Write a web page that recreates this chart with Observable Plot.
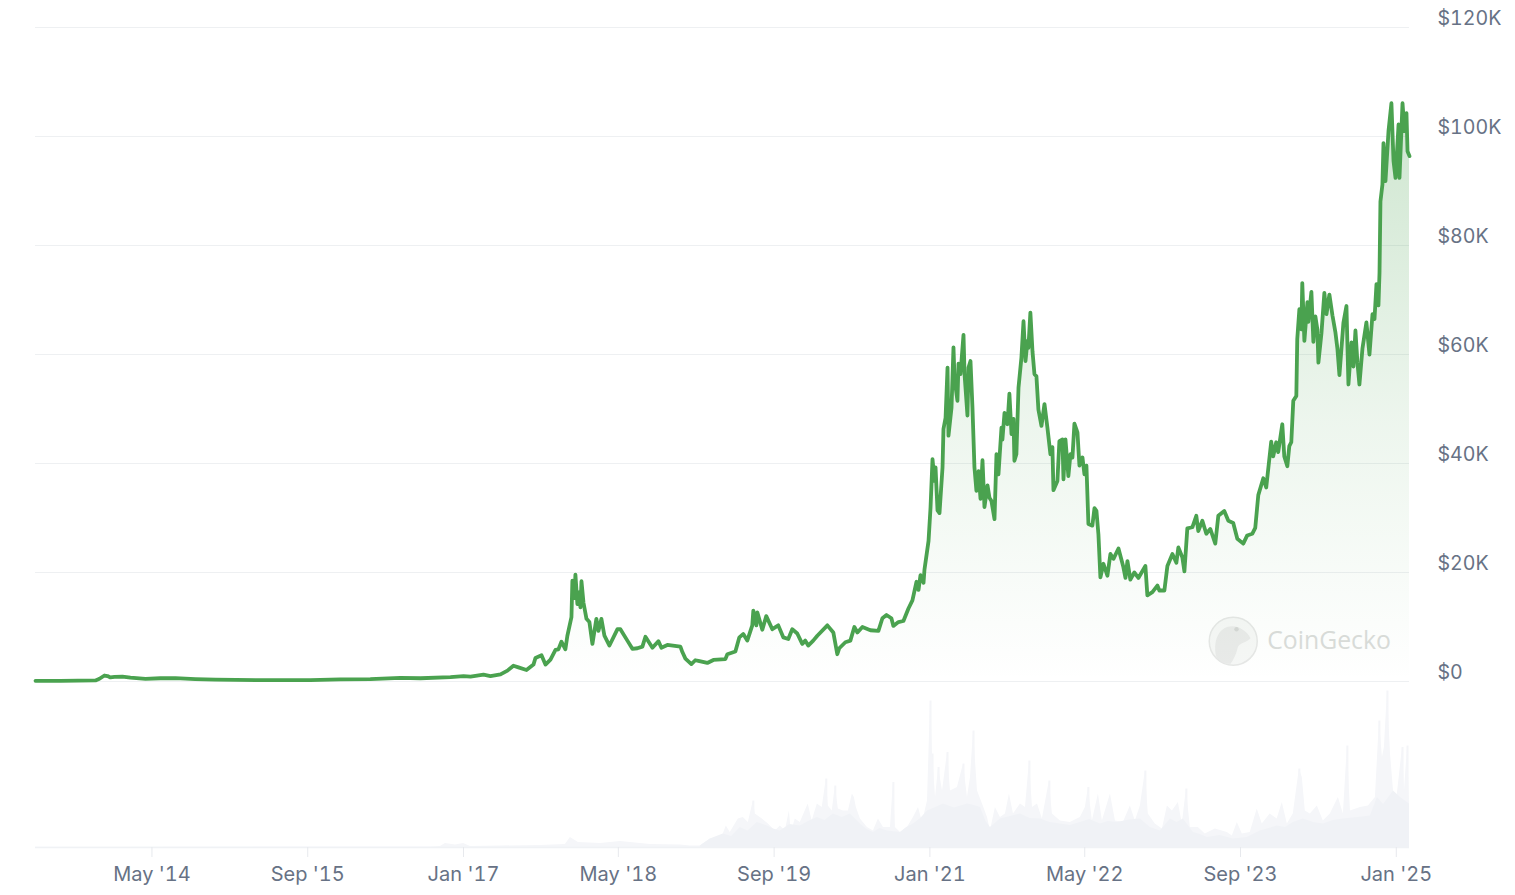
<!DOCTYPE html>
<html lang="en">
<head>
<meta charset="utf-8">
<title>Bitcoin price chart</title>
<style>
  html, body { margin: 0; padding: 0; background: #fff; overflow: hidden; }
  #chart { width: 1515px; height: 895px; }
  #chart svg { display: block; background: transparent; }
</style>
<script src="https://cdn.jsdelivr.net/npm/d3@7"></script>
<script src="https://cdn.jsdelivr.net/npm/@observablehq/plot@0.6"></script>
</head>
<body>
<div id="chart"></div>
<script>
// Price series: decimal year, USD thousands
const priceYears = [
2013.338,2013.553,2013.853,2013.887,2013.930,2013.956,2013.981,2014.016,2014.084,2014.153,2014.282,2014.410,2014.539,2014.710,2014.882,2015.268,2015.697,2015.954,2016.211,2016.468,2016.640,
2016.897,2017.009,2017.069,2017.180,2017.240,2017.326,2017.386,2017.437,2017.480,2017.549,2017.609,2017.626,2017.678,2017.712,2017.755,2017.798,2017.823,2017.849,2017.883,2017.900,2017.935,2017.943,2017.960,2017.969,2017.986,2018.003,2018.012,2018.021,2018.038,2018.064,2018.089,2018.115,2018.149,2018.167,2018.192,2018.218,2018.261,2018.330,2018.355,2018.415,2018.458,2018.501,2018.544,2018.570,2018.630,2018.681,2018.707,2018.758,2018.870,2018.887,2018.913,2018.964,2018.998,2019.024,2019.101,2019.153,2019.256,2019.273,2019.342,2019.376,2019.410,2019.444,2019.487,2019.496,2019.522,2019.530,2019.573,2019.607,2019.659,2019.710,2019.753,2019.796,2019.830,2019.873,2019.916,2019.942,2019.967,2020.010,2020.045,2020.131,2020.182,2020.216,2020.233,2020.285,2020.328,2020.362,2020.388,2020.431,2020.499,2020.568,2020.602,2020.637,2020.679,2020.696,2020.739,2020.782,2020.825,2020.859,2020.894,2020.911,2020.928,2020.954,2020.962,
2020.997,2021.014,2021.031,2021.048,2021.057,2021.074,2021.091,2021.117,2021.125,2021.143,2021.160,2021.168,2021.194,2021.211,2021.220,2021.245,2021.254,2021.271,2021.297,2021.306,2021.331,2021.340,2021.357,2021.374,2021.391,2021.408,2021.426,2021.443,2021.460,2021.477,2021.503,2021.520,2021.537,2021.563,2021.580,2021.597,2021.623,2021.631,2021.649,2021.674,2021.691,2021.709,2021.726,2021.734,2021.751,2021.769,2021.794,2021.812,2021.829,2021.846,2021.854,2021.871,2021.889,2021.906,2021.923,2021.940,2021.966,2021.992,2022.017,2022.043,2022.060,2022.069,2022.103,2022.120,2022.146,2022.155,2022.172,2022.197,2022.215,2022.232,2022.249,2022.275,2022.292,2022.318,2022.335,2022.352,2022.369,2022.403,2022.421,2022.438,2022.455,
2022.472,2022.498,2022.532,2022.558,2022.584,2022.627,2022.669,2022.687,2022.704,2022.729,2022.763,2022.798,2022.858,2022.875,2022.918,2022.961,2022.978,2023.021,2023.047,2023.090,2023.124,2023.141,2023.175,2023.193,2023.218,2023.261,2023.295,2023.312,2023.347,2023.381,2023.415,2023.458,2023.484,2023.535,2023.570,2023.612,2023.647,2023.698,2023.732,2023.775,2023.801,
2023.827,2023.870,2023.895,2023.938,2023.955,2023.981,2023.998,2024.033,2024.050,2024.076,2024.093,2024.110,2024.127,2024.153,2024.161,2024.179,2024.196,2024.204,2024.222,2024.248,2024.256,2024.282,2024.299,2024.316,2024.333,2024.342,2024.368,2024.393,2024.411,2024.436,2024.462,2024.488,2024.505,2024.522,2024.556,2024.582,2024.599,2024.625,2024.642,2024.659,2024.676,2024.693,2024.719,2024.753,2024.779,2024.805,2024.822,2024.839,2024.856,2024.865,2024.873,2024.890,2024.899,2024.916,2024.942,2024.967,2024.985,2025.002,2025.028,2025.036,2025.062,2025.079,2025.096,2025.105,2025.122
];
const priceValues = [
.12,.11,.2,.5,1.1,1.0,.75,.85,.9,.7,.5,.6,.62,.45,.35,.24,.25,.4,.42,.65,.6,
.8,1.0,.9,1.25,1.0,1.3,2.0,2.9,2.6,2.1,3.1,4.3,4.8,3.1,4.0,5.8,5.9,7.3,5.9,8.4,11.8,18.5,15.3,19.6,14.2,16.4,13.6,18.4,14.5,11.5,10.9,6.9,11.5,9.3,11.5,8.4,6.6,9.6,9.6,7.5,6.0,6.1,6.4,8.2,6.2,7.4,6.2,6.7,6.4,5.4,4.2,3.2,3.9,3.8,3.4,3.95,4.1,5.0,5.5,8.1,8.7,7.5,10.3,13.0,10.3,12.7,9.5,12,9.6,10.3,8.1,7.8,9.6,8.8,6.9,7.5,6.6,7.5,8.4,10.3,9.0,5.0,6.1,7.2,7.5,10,9,10,9.4,9.3,11.6,12.2,11.6,10.2,10.9,11.1,13.4,14.9,18.3,16.8,19.5,18.1,20.5,
25.8,31.9,40.8,36.8,39.3,31.4,30.9,39.3,46.3,48.4,57.6,45.1,50.2,61.3,55.5,51.5,58.3,56.4,63.6,56.4,48.8,57.6,58.8,50.2,39.3,35,38.6,33.5,40.6,32,36,33.7,33.1,29.8,41.7,38,46.6,44.4,49.3,47.2,52.8,45.4,48.2,40.5,41.7,53.9,59.4,66.1,58.8,62.5,61.2,67.7,60.6,56.4,56,49.9,46.9,50.9,46.6,41.7,43,35.1,36.8,44.1,44.4,37.1,44.4,37.7,41.7,41.1,47.3,45.7,39.6,41.1,38,39.6,28.9,28.6,31.8,31.3,27,
19.1,21.6,19.4,23.4,22.5,24.4,21,19,22.1,18.7,20,19,21.2,15.8,16.4,17.6,16.7,16.7,21.2,23.4,21.8,24.6,22.8,20.2,28.1,28.3,30.4,27.6,29.5,27.1,28,25.3,30.4,31.3,29.5,29.1,26.2,25.3,26.8,27.1,28.2,
34.2,37.3,35.6,44,41.3,43.9,42.1,47.2,41.3,39.5,43.2,43.9,51.5,52.4,62.8,68.3,64.6,73.1,62.5,69.6,66,71.5,62.3,67,64.6,58.5,63.9,71.3,67.4,71,67.2,64,61,56.2,65.8,68.9,54.5,62.2,57.8,64.4,58.5,54.5,61.1,65.9,60,67.4,66.5,72.9,69,75,88.1,91.2,98.8,91.8,101,106.1,95.5,92.4,102.2,92.4,106.1,101,104.3,97.3,96.4
];

// Traded volume envelope: decimal year, USD billions
const volumeYears = [
2013.338,2016.726,2016.811,2016.854,2016.940,2017.009,2017.069,2017.326,2017.669,2017.883,2017.926,2017.995,2018.184,2018.355,2018.612,2018.870,2018.955,
2019.041,2019.127,2019.212,2019.238,2019.264,2019.298,2019.367,2019.410,2019.453,2019.496,2019.513,2019.573,2019.625,2019.685,2019.728,2019.771,2019.805,2019.822,2019.856,2019.899,2019.967,2020.001,2020.045,2020.087,2020.122,2020.139,2020.173,2020.199,2020.225,2020.268,2020.311,2020.345,2020.362,2020.379,2020.414,2020.474,2020.525,2020.568,2020.611,2020.671,2020.696,2020.713,2020.757,2020.816,2020.868,2020.911,2020.945,2020.988,2021.014,2021.031,2021.057,2021.083,2021.117,2021.160,2021.185,2021.245,2021.297,2021.331,2021.357,2021.383,2021.417,2021.460,2021.503,2021.528,2021.571,2021.614,2021.657,2021.691,2021.726,2021.786,2021.829,2021.863,2021.889,2021.932,2021.974,2022.034,2022.060,2022.129,
2022.214,2022.300,2022.343,2022.369,2022.403,2022.455,2022.489,2022.558,2022.601,2022.669,2022.729,2022.772,2022.815,2022.858,2022.883,2022.943,2023.004,2023.047,2023.090,2023.141,2023.175,2023.210,2023.244,2023.312,2023.372,2023.458,2023.561,2023.604,2023.647,2023.690,2023.758,2023.818,2023.861,2023.929,2023.989,2024.033,2024.076,2024.127,2024.179,2024.204,2024.230,2024.273,2024.333,2024.384,2024.444,2024.513,2024.556,2024.590,2024.616,2024.702,2024.770,2024.830,2024.864,2024.890,2024.907,2024.933,2024.959,2024.985,2025.011,2025.062,2025.079,2025.105,2025.122
];
const volumeValues = [
.5,1,2,8,5,8,2,3,4,6,20,10,8,12,6,5,3,
3,17,17,27,43,30,57,60,50,93,67,57,47,33,43,33,73,30,57,50,87,53,87,80,137,83,73,123,77,73,73,107,100,80,57,40,33,57,40,40,130,40,30,40,60,80,50,93,293,187,100,160,113,190,113,120,167,100,140,233,113,87,60,33,80,60,67,107,67,87,80,173,80,87,57,133,67,53,
50,60,80,120,53,107,53,107,53,50,83,53,83,153,67,47,37,83,73,90,47,117,40,40,27,37,30,23,50,27,30,77,47,67,57,90,47,67,157,140,73,67,83,53,67,100,67,203,73,80,83,100,253,180,200,313,187,113,93,200,113,203,87
];

// Tallest single-day spikes on top of that envelope
const volumeSpikeYears = [
2019.496,2020.122,2020.199,2020.696,2021.014,2021.031,2021.083,2021.160,2021.297,2021.383,2021.863,2022.034,
2022.369,2022.858,2023.210,2024.179,2024.590,2024.864,2024.933,2025.062,2025.105
];
const volumeSpikeValues = [
93,137,123,130,293,187,160,190,167,233,173,133,
120,153,117,157,203,253,313,200,203
];

// Solid mass of the traded volume under the spikes
const volumeBaseYears = [
2019.041,2019.127,2019.238,2019.310,2019.384,2019.450,2019.530,2019.616,2019.670,2019.728,2019.810,2019.899,2019.970,2020.045,2020.110,2020.182,2020.260,2020.328,2020.414,2020.470,2020.525,2020.580,2020.645,2020.757,2020.810,2020.868,2020.930,2020.988,2021.060,2021.125,2021.220,2021.331,2021.390,2021.443,2021.490,2021.528,2021.614,2021.700,2021.786,2021.870,2021.958,2022.040,2022.129,
2022.214,2022.300,2022.380,2022.472,2022.540,2022.618,2022.720,2022.815,2022.900,2022.987,2023.073,2023.130,2023.184,2023.270,2023.330,2023.390,2023.500,2023.612,2023.732,2023.844,2023.920,2023.989,2024.060,2024.127,2024.213,2024.300,2024.384,2024.470,2024.556,2024.680,2024.787,2024.847,2024.900,2024.985,2025.045,2025.122
];
const volumeBaseValues = [
3,17,27,22,40,33,50,43,37,33,46,43,52,60,54,67,60,67,47,36,30,38,33,30,40,47,58,73,80,87,79,87,84,80,52,40,57,62,67,58,57,50,47,
44,50,56,47,52,50,55,57,40,33,57,50,57,30,26,20,24,17,20,33,38,43,40,50,57,50,47,54,57,60,63,100,86,113,100,87
];

// Axes
const priceTicks = [0, 20, 40, 60, 80, 100, 120];
const priceTickLabels = ["$0", "$20K", "$40K", "$60K", "$80K", "$100K", "$120K"];
const dateTicks = ["2014-05-01", "2015-09-01", "2017-01-01", "2018-05-01", "2019-09-01", "2021-01-01", "2022-05-01", "2023-09-01", "2025-01-01"];
const dateTickLabels = ["May '14", "Sep '15", "Jan '17", "May '18", "Sep '19", "Jan '21", "May '22", "Sep '23", "Jan '25"];
const xExtent = [2013.338, 2025.122];

// Watermark
const brandName = ["CoinGecko"];
const brandYear = 2023.903;
const brandLogoYear = 2023.612;
const brandPrice = 7.4;

const toDate = (y) => {
  const yr = Math.floor(y);
  const a = Date.UTC(yr, 0, 1), b = Date.UTC(yr + 1, 0, 1);
  return new Date(a + (y - yr) * (b - a));
};

const price = priceYears.map((y, i) => ({ date: toDate(y), value: priceValues[i] }));
const volume = volumeYears.map((y, i) => ({ date: toDate(y), value: volumeValues[i] }));
const volumeSpikes = volumeSpikeYears.map((y, i) => ({ date: toDate(y), value: volumeSpikeValues[i] }));
const volumeBase = volumeBaseYears.map((y, i) => ({ date: toDate(y), value: volumeBaseValues[i] }));
const tickDates = dateTicks.map((d) => new Date(d + "T00:00:00Z"));
const tickLabelOf = new Map(tickDates.map((d, i) => [+d, dateTickLabels[i]]));
const priceLabelOf = new Map(priceTicks.map((v, i) => [v, priceTickLabels[i]]));

const FONT = "Inter, 'Liberation Sans', sans-serif";
const INK = "#677285";
const GRID = "#eef0f2";
const GREEN = "#4aa24f";

const gradient = () => {
  const defs = d3.create("svg:defs");
  const g = defs.append("linearGradient").attr("id", "priceFill")
    .attr("x1", 0).attr("y1", 0).attr("x2", 0).attr("y2", 1);
  g.append("stop").attr("offset", "0%").attr("stop-color", GREEN).attr("stop-opacity", 0.27);
  g.append("stop").attr("offset", "55%").attr("stop-color", GREEN).attr("stop-opacity", 0.1);
  g.append("stop").attr("offset", "100%").attr("stop-color", GREEN).attr("stop-opacity", 0);
  return defs.node();
};

// Gecko head silhouette, scaled by the dot's radius
const geckoSymbol = {
  draw(ctx, size) {
    const r = Math.sqrt(size / Math.PI);
    const p = (v) => v * r;
    ctx.moveTo(p(-0.72), p(0.62));
    ctx.bezierCurveTo(p(-0.85), p(-0.1), p(-0.55), p(-0.62), p(-0.05), p(-0.62));
    ctx.bezierCurveTo(p(0.3), p(-0.62), p(0.62), p(-0.35), p(0.72), p(-0.12));
    ctx.bezierCurveTo(p(0.55), p(0.08), p(0.25), p(0.05), p(0.18), p(0.28));
    ctx.bezierCurveTo(p(0.12), p(0.55), p(0), p(0.8), p(-0.12), p(0.95));
    ctx.bezierCurveTo(p(-0.35), p(0.95), p(-0.58), p(0.85), p(-0.72), p(0.62));
    ctx.closePath();
  }
};

const xDomain = xExtent.map(toDate);

const priceChart = Plot.plot({
  width: 1515, height: 690,
  marginLeft: 35, marginRight: 106, marginTop: 27, marginBottom: 9,
  x: { type: "utc", domain: xDomain, axis: null },
  y: { domain: [0, 120], axis: null },
  style: { fontFamily: FONT, background: "transparent", overflow: "visible" },
  marks: [
    gradient,
    Plot.ruleY(priceTicks, { stroke: GRID, strokeWidth: 1 }),
    Plot.axisY(priceTicks, {
      anchor: "right", tickSize: 0, tickPadding: 28, dy: -8.5, label: null,
      textAnchor: "start", fontSize: 19.6, fill: INK,
      tickFormat: (v) => priceLabelOf.get(v)
    }),
    Plot.dot([brandLogoYear], {
      x: (d) => toDate(d), y: () => brandPrice, r: 24,
      fill: "#f6f7f6", stroke: "#e6e7e6", strokeWidth: 1.5
    }),
    Plot.dot([brandLogoYear], {
      x: (d) => toDate(d), y: () => brandPrice, r: 24,
      symbol: geckoSymbol, fill: "#e9eae9", stroke: "none"
    }),
    Plot.dot([2023.640], {
      x: (d) => toDate(d), y: () => 9.6, r: 2.2, fill: "#d5d7d5"
    }),
    Plot.text(brandName, {
      x: () => toDate(brandYear), y: () => brandPrice, text: (d) => d,
      textAnchor: "start", fontSize: 24.8, fontWeight: 500, fill: "#dadcda", fontFamily: "'Open Sans', sans-serif"
    }),
    Plot.areaY(price, { x: "date", y: "value", fill: "url(#priceFill)", curve: "linear" }),
    Plot.lineY(price, {
      x: "date", y: "value", stroke: GREEN, strokeWidth: 3.8,
      strokeLinejoin: "round", strokeLinecap: "round", curve: "linear"
    })
  ]
});

const volumeChart = Plot.plot({
  width: 1515, height: 205,
  marginLeft: 35, marginRight: 106, marginTop: 0, marginBottom: 48,
  x: { type: "utc", domain: xDomain },
  y: { domain: [0, 314], axis: null },
  style: { fontFamily: FONT, background: "transparent", overflow: "visible" },
  marks: [
    Plot.ruleX(volumeSpikes, { x: "date", y: "value", stroke: "#f4f5f8", strokeWidth: 2 }),
    Plot.areaY(volume, { x: "date", y: "value", fill: "#f5f6f9", curve: "linear" }),
    Plot.areaY(volumeBase, { x: "date", y: "value", fill: "#f0f2f6", curve: "linear" }),
    Plot.ruleY([0], { stroke: "#f0f2f5", strokeWidth: 1.5 }),
    Plot.axisX(tickDates, {
      anchor: "bottom", tickSize: 10, tickPadding: 9, label: null, dx: 1,
      stroke: "#e7e9ed", fill: INK, fontSize: 20,
      tickFormat: (d) => tickLabelOf.get(+d)
    })
  ]
});

document.getElementById("chart").append(priceChart, volumeChart);
</script>
</body>
</html>
